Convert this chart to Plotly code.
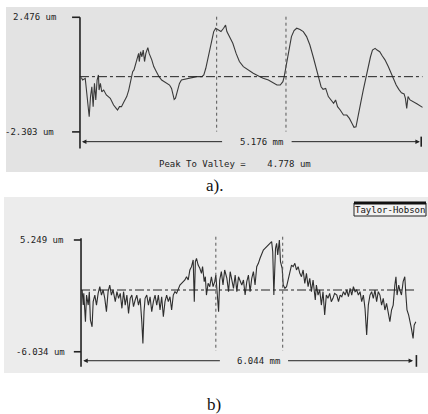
import plotly.graph_objects as go

# ---------------- panel a) profile (x in mm, y in um) ----------------
a_x = [0.02, 0.04, 0.08, 0.11, 0.14, 0.16, 0.18, 0.20, 0.22, 0.24, 0.26, 0.28, 0.29, 0.31, 0.33,
       0.36, 0.40, 0.46, 0.51, 0.55, 0.57, 0.60, 0.63, 0.67, 0.71, 0.74, 0.77, 0.80, 0.82, 0.85,
       0.87, 0.89, 0.90, 0.92, 0.94, 0.96, 0.98, 1.00, 1.03, 1.05, 1.09, 1.12, 1.16, 1.20, 1.24,
       1.28, 1.32, 1.36, 1.39, 1.41, 1.43, 1.45, 1.48, 1.51, 1.54, 1.59, 1.64, 1.70, 1.77, 1.85,
       1.88, 1.91, 1.94, 1.97, 2.00, 2.03, 2.06, 2.10, 2.14, 2.18, 2.21, 2.23, 2.27, 2.32, 2.37,
       2.42, 2.48, 2.56, 2.63, 2.71, 2.78, 2.86, 2.92, 2.99, 3.04, 3.08, 3.10, 3.12, 3.15, 3.18,
       3.21, 3.25, 3.29, 3.34, 3.39, 3.44, 3.49, 3.54, 3.59, 3.63, 3.66, 3.69, 3.73, 3.77, 3.81,
       3.85, 3.88, 3.91, 3.95, 4.00, 4.05, 4.09, 4.13, 4.16, 4.19, 4.23, 4.26, 4.30, 4.34, 4.38,
       4.41, 4.44, 4.48, 4.51, 4.55, 4.59, 4.63, 4.68, 4.72, 4.76, 4.80, 4.84, 4.88, 4.92, 4.94,
       4.96, 4.98, 5.01, 5.06, 5.12, 5.20]
a_y = [-0.03, -0.14, -0.07, -0.97, -1.67, -0.83, -0.42, -1.25, -0.28, -0.97, -0.14, 0.07, -0.56, -0.28, -0.63,
       -0.56, -0.76, -0.90, -1.18, -1.32, -1.39, -1.25, -1.25, -1.04, -0.83, -0.56, -0.14, 0.21, 0.28, 0.56,
       0.76, 0.97, 0.63, 1.04, 0.83, 1.11, 0.63, 0.97, 1.21, 0.97, 0.70, 0.42, 0.21, 0.00, -0.14,
       -0.21, -0.28, -0.35, -0.49, -0.76, -0.95, -0.90, -0.63, -0.28, -0.14, -0.11, -0.10, -0.04, 0.00, 0.00,
       0.07, 0.35, 0.70, 1.11, 1.53, 1.88, 2.02, 1.95, 1.88, 2.02, 2.15, 1.88, 1.67, 1.39, 0.97,
       0.63, 0.42, 0.25, 0.14, 0.03, -0.07, -0.14, -0.25, -0.35, -0.35, -0.21, 0.00, 0.28, 0.70, 1.25,
       1.67, 1.92, 2.02, 1.97, 1.88, 1.67, 1.32, 0.83, 0.35, -0.07, -0.42, -0.53, -0.49, -0.83, -0.97,
       -1.11, -0.97, -1.25, -1.39, -1.60, -1.60, -1.74, -1.95, -2.11, -2.09, -1.60, -1.11, -0.56, 0.00, 0.49,
       0.83, 1.11, 1.18, 1.11, 1.04, 0.86, 0.70, 0.42, 0.14, -0.07, -0.35, -0.53, -0.67, -0.72, -0.90,
       -1.32, -0.83, -0.97, -1.04, -1.14, -1.28]
a_ticks = [2.476, -2.303]
a_tick_labels = ["2.476 um", "-2.303 um"]
a_length_label = "5.176 mm"
a_ptv_label = "Peak To Valley =    4.778 um"
a_markers = [2.075, 3.127]

# ---------------- panel b) profile ----------------
b_x = [0.02, 0.04, 0.05, 0.08, 0.10, 0.13, 0.15, 0.17, 0.20, 0.22, 0.25, 0.28, 0.31, 0.34, 0.37,
       0.40, 0.43, 0.46, 0.49, 0.52, 0.55, 0.58, 0.62, 0.65, 0.68, 0.71, 0.74, 0.77, 0.80, 0.83,
       0.86, 0.89, 0.92, 0.95, 0.98, 1.01, 1.04, 1.07, 1.10, 1.12, 1.14, 1.16, 1.19, 1.22, 1.25,
       1.28, 1.31, 1.34, 1.37, 1.40, 1.43, 1.46, 1.49, 1.52, 1.55, 1.58, 1.61, 1.64, 1.67, 1.70,
       1.73, 1.76, 1.79, 1.82, 1.85, 1.88, 1.91, 1.94, 1.97, 2.00, 2.03, 2.05, 2.07, 2.09, 2.12,
       2.15, 2.18, 2.20, 2.23, 2.25, 2.27, 2.30, 2.33, 2.36, 2.39, 2.42, 2.44, 2.47, 2.49, 2.51,
       2.54, 2.57, 2.60, 2.64, 2.67, 2.70, 2.73, 2.76, 2.79, 2.82, 2.85, 2.88, 2.91, 2.94, 2.97,
       3.00, 3.03, 3.06, 3.09, 3.12, 3.15, 3.18, 3.21, 3.24, 3.27, 3.30, 3.33, 3.36, 3.39, 3.42,
       3.45, 3.47, 3.49, 3.52, 3.54, 3.56, 3.59, 3.61, 3.64, 3.66, 3.69, 3.72, 3.75, 3.78, 3.81,
       3.84, 3.87, 3.90, 3.93, 3.96, 3.99, 4.02, 4.05, 4.08, 4.11, 4.14, 4.17, 4.20, 4.24, 4.26,
       4.29, 4.32, 4.35, 4.38, 4.41, 4.44, 4.47, 4.50, 4.53, 4.56, 4.59, 4.63, 4.66, 4.69, 4.72,
       4.75, 4.78, 4.81, 4.84, 4.87, 4.90, 4.93, 4.96, 4.99, 5.02, 5.05, 5.08, 5.11, 5.14, 5.17,
       5.20, 5.23, 5.26, 5.29, 5.32, 5.35, 5.38, 5.41, 5.44, 5.47, 5.50, 5.53, 5.56, 5.59, 5.62,
       5.65, 5.68, 5.70, 5.72, 5.75, 5.77, 5.80, 5.83, 5.86, 5.88, 5.90, 5.93, 5.95, 5.98, 6.01,
       6.03, 6.06]
b_y = [0.20, -1.32, -0.14, -3.00, -0.31, -1.32, 0.03, -2.83, -3.51, -0.98, -0.31, -1.32, -0.14, 0.54, -0.31,
       0.20, -0.64, -1.99, 0.03, 0.70, -0.31, 0.20, -0.98, 0.03, -0.64, -0.14, -1.65, 0.03, -1.32, -0.31,
       -2.16, -0.64, -0.31, -1.48, -0.81, -0.31, -1.32, -0.64, -3.00, -5.19, -1.99, -0.64, -0.31, -1.32, -0.48,
       -1.99, -0.98, -0.31, -1.32, -0.31, -1.82, -0.48, -2.50, -0.98, -0.31, -0.98, -0.48, -1.82, -0.31, 0.03,
       -0.14, 0.37, 0.70, 0.87, 1.04, 1.21, 1.54, 1.21, 2.22, 2.56, 3.23, -0.98, 3.06, 3.40, 2.72,
       2.39, 1.88, 2.56, 1.04, 1.54, -0.31, 0.87, 0.54, 1.54, 0.54, 1.04, 1.71, -0.31, -1.99, 1.21,
       2.05, 0.70, 2.22, 1.38, 0.03, 2.05, 1.04, 0.37, 1.71, 0.03, 1.54, 1.04, 0.70, 1.21, -0.31,
       1.04, 1.71, 0.03, 1.38, 2.05, 0.70, 2.56, 2.89, 3.40, 3.90, 4.24, 4.41, 4.58, 4.74, 4.91,
       5.08, 4.07, -0.31, 4.41, 4.91, 3.73, 5.25, 3.06, 2.39, 0.70, 0.37, 0.54, 1.38, 2.05, 2.72,
       2.56, 2.89, 2.22, 2.56, 1.88, 1.54, 2.22, 0.87, 1.88, 0.54, 1.38, 0.03, 1.21, -0.81, 0.70,
       -0.31, 0.20, -1.32, 0.03, -2.33, -0.31, -0.64, -0.14, -0.98, -0.64, -0.14, -0.31, -0.98, -0.31, -0.48,
       0.03, -0.31, 0.20, -0.48, 0.37, -0.31, 0.54, 0.03, 0.20, -0.31, 0.03, -0.98, -0.31, -1.65, -4.35,
       -1.32, -0.31, 0.03, -0.64, 0.20, -0.98, 0.03, -0.31, -1.32, -0.64, -1.82, -1.15, -2.33, -3.00, -1.82,
       -1.32, 0.70, 1.54, -0.31, 0.70, 0.20, -0.31, 1.04, 1.54, -0.31, -1.82, -2.33, -2.83, -3.67, -4.68,
       -3.34, -3.00]
b_ticks = [5.249, -6.034]
b_tick_labels = ["5.249 um", "-6.034 um"]
b_length_label = "6.044 mm"
b_markers = [2.44, 3.65]
b_mean = 0.2

INK = "#222222"
MONO = "DejaVu Sans Mono"

fig = go.Figure()
fig.add_trace(go.Scatter(x=a_x, y=a_y, mode="lines", line=dict(color="#3a3a3a", width=1.1),
                         xaxis="x", yaxis="y", showlegend=False, hoverinfo="skip"))
fig.add_trace(go.Scatter(x=b_x, y=b_y, mode="lines", line=dict(color="#2e2e2e", width=1.1),
                         xaxis="x2", yaxis="y2", showlegend=False, hoverinfo="skip"))

shapes = []
# gray panel backgrounds
shapes.append(dict(type="rect", xref="paper", yref="paper", x0=6/428, x1=1, y0=1-172/414, y1=1-7/414,
                   fillcolor="#e3e3e3", line=dict(width=0), layer="below"))
shapes.append(dict(type="rect", xref="paper", yref="paper", x0=4/428, x1=1, y0=1-373/414, y1=1-197/414,
                   fillcolor="#ececec", line=dict(width=0), layer="below"))

def panel(xr, yr, ticks, top_y, bot_y, tick_x0, markers, mk_top, mk_bot, mean, x_end,
          bar_x, bar_y0, bar_y1):
    s = []
    s.append(dict(type="line", xref=xr, yref=yr, x0=0, x1=0, y0=top_y, y1=bot_y, line=dict(color=INK, width=1.6)))
    for t in ticks:
        s.append(dict(type="line", xref=xr, yref=yr, x0=tick_x0, x1=0, y0=t, y1=t, line=dict(color=INK, width=1.6)))
    s.append(dict(type="line", xref=xr, yref=yr, x0=0, x1=x_end, y0=mean, y1=mean,
                  line=dict(color=INK, width=1, dash="dashdot")))
    for m in markers:
        s.append(dict(type="line", xref=xr, yref=yr, x0=m, x1=m, y0=mk_top, y1=mk_bot,
                      line=dict(color="#555", width=1, dash="dot")))
    s.append(dict(type="line", xref=xr, yref=yr, x0=bar_x, x1=bar_x, y0=bar_y0, y1=bar_y1,
                  line=dict(color=INK, width=1.6)))
    return s

shapes += panel("x", "y", a_ticks, 2.476, -2.99, -0.12, a_markers, 2.50, -2.29, 0.0, 5.20,
                5.18, -2.50, -2.92)
shapes += panel("x2", "y2", b_ticks, 5.42, -7.55, -0.13, b_markers, 5.58, -5.96, b_mean, 6.04,
                6.07, -6.37, -7.55)

# Taylor-Hobson box
shapes.append(dict(type="rect", xref="paper", yref="paper", x0=354/428, x1=426/428,
                   y0=1-216/414, y1=1-203/414, line=dict(color=INK, width=1), fillcolor="#f2f2f2"))
shapes.append(dict(type="line", xref="paper", yref="paper", x0=354/428, x1=426/428,
                   y0=1-203/414, y1=1-203/414, line=dict(color="#111", width=3)))

ann = []
def txt(x, y, s, xr, yr, size=9, xanchor="center", font=MONO, color=INK):
    ann.append(dict(x=x, y=y, xref=xr, yref=yr, text=s, showarrow=False, xanchor=xanchor, yanchor="middle",
                    font=dict(family=font, size=size, color=color)))

def arrow(head, tail, y, xr, yr):
    ann.append(dict(x=head, y=y, ax=tail, ay=y, xref=xr, yref=yr, axref=xr, ayref=yr, text="",
                    showarrow=True, arrowhead=2, arrowsize=0.9, arrowwidth=1, arrowcolor=INK))

# panel a labels
txt(-0.33, a_ticks[0], a_tick_labels[0], "x", "y", xanchor="right")
txt(-0.37, a_ticks[1], a_tick_labels[1], "x", "y", xanchor="right")
arrow(0.03, 2.18, -2.71, "x", "y")
arrow(5.16, 3.19, -2.71, "x", "y")
txt(2.76, -2.71, a_length_label, "x", "y")
txt(2.36, -3.66, a_ptv_label, "x", "y")

# panel b labels
txt(-0.29, b_ticks[0], b_tick_labels[0], "x2", "y2", xanchor="right")
txt(-0.25, b_ticks[1], b_tick_labels[1], "x2", "y2", xanchor="right")
arrow(0.04, 2.54, -6.94, "x2", "y2")
arrow(6.01, 3.72, -6.94, "x2", "y2")
txt(3.21, -6.94, b_length_label, "x2", "y2")
txt(390/428, 1-209.5/414, "Taylor-Hobson", "paper", "paper", size=9, color="#111")

# captions
txt(214/428, 1-185/414, "a).", "paper", "paper", size=17, font="Liberation Serif", color="#111")
txt(214/428, 1-404/414, "b)", "paper", "paper", size=17, font="Liberation Serif", color="#111")

fig.update_layout(
    width=428, height=414, margin=dict(l=0, r=0, t=0, b=0),
    paper_bgcolor="white", plot_bgcolor="rgba(0,0,0,0)",
    xaxis=dict(domain=[6/428, 1], range=[-1.123, 5.283], visible=False, anchor="y"),
    yaxis=dict(domain=[1-172/414, 1-7/414], range=[-3.975, 2.905], visible=False, anchor="x"),
    xaxis2=dict(domain=[4/428, 1], range=[-1.394, 6.28], visible=False, anchor="y2"),
    yaxis2=dict(domain=[1-373/414, 1-197/414], range=[-8.18, 9.59], visible=False, anchor="x2"),
    shapes=shapes, annotations=ann, showlegend=False,
)
fig.write_html("out.html")
